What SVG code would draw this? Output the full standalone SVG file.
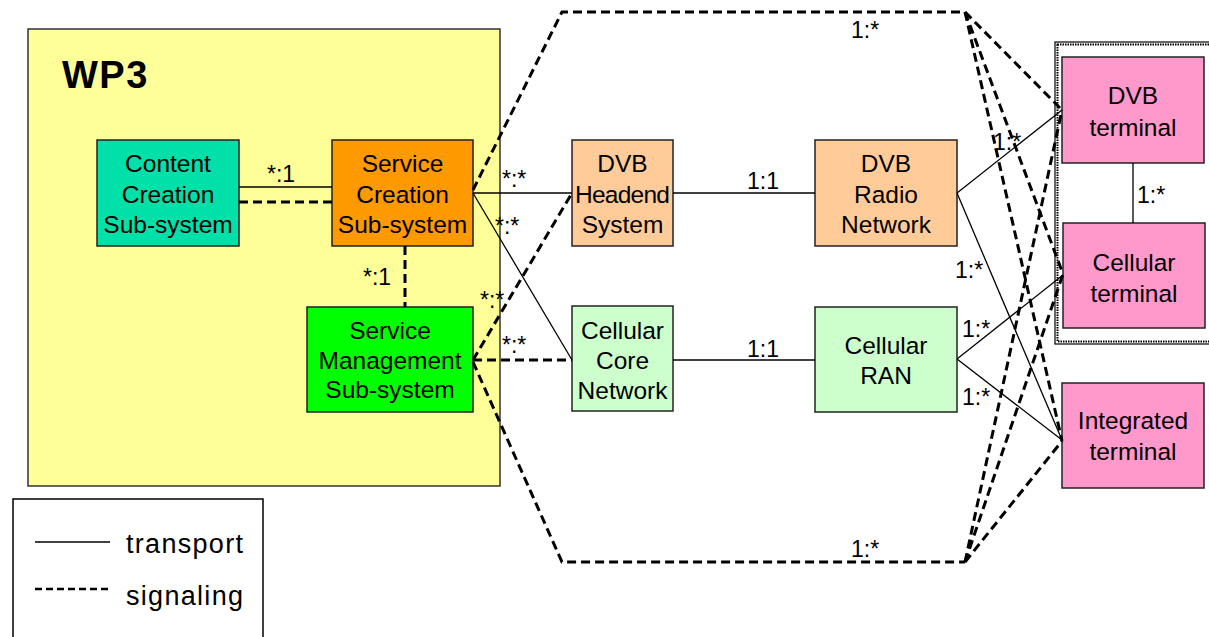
<svg xmlns="http://www.w3.org/2000/svg" width="1209" height="637" viewBox="0 0 1209 637">
<style>
.node rect{stroke:#222;stroke-width:1.5}
.t{font-family:"Liberation Sans",Arial,sans-serif;font-size:24.5px;fill:#000;text-anchor:middle}
.lbl{font-family:"Liberation Sans",Arial,sans-serif;font-size:23px;fill:#000}
.solid{stroke:#000;stroke-width:1.3;fill:none}
.dash{stroke:#000;stroke-width:3;stroke-dasharray:9 5;fill:none}
</style>
<rect width="1209" height="637" fill="#fff"/>
<g id="wp3">
<rect x="28" y="29" width="472" height="457" fill="#FFFF99" stroke="#333" stroke-width="1.5"/>
<text x="62" y="88" font-family="Liberation Sans,Arial,sans-serif" font-size="38" font-weight="bold" letter-spacing="1.5">WP3</text>
</g>
<g id="terminal-group">
<rect x="1055" y="42" width="165" height="302" fill="none" stroke="#000" stroke-width="1.2"/>
<rect x="1057.5" y="44.5" width="165" height="297" fill="none" stroke="#000" stroke-width="2" stroke-dasharray="1.5 1"/>
</g>
<g id="content-creation" class="node">
<rect x="97" y="140" width="142" height="106" fill="#00E0A8"/>
<text class="t" x="168" y="172">Content</text><text class="t" x="168" y="203">Creation</text><text class="t" x="168" y="233">Sub-system</text>
</g>
<g id="service-creation" class="node">
<rect x="332" y="140" width="141" height="106" fill="#FF9900"/>
<text class="t" x="402.5" y="172">Service</text><text class="t" x="402.5" y="203">Creation</text><text class="t" x="402.5" y="233">Sub-system</text>
</g>
<g id="service-management" class="node">
<rect x="307" y="307" width="166" height="105" fill="#00FF00"/>
<text class="t" x="390" y="339">Service</text><text class="t" x="390" y="369">Management</text><text class="t" x="390" y="398">Sub-system</text>
</g>
<g id="dvb-headend" class="node">
<rect x="572" y="140" width="101" height="106" fill="#FFCC99"/>
<text class="t" x="622.5" y="172">DVB</text><text class="t" x="622.5" y="203" textLength="95">Headend</text><text class="t" x="622.5" y="233">System</text>
</g>
<g id="dvb-radio" class="node">
<rect x="815" y="140" width="142" height="106" fill="#FFCC99"/>
<text class="t" x="886" y="172">DVB</text><text class="t" x="886" y="203">Radio</text><text class="t" x="886" y="233">Network</text>
</g>
<g id="cellular-core" class="node">
<rect x="572" y="306" width="101" height="105" fill="#CCFFCC"/>
<text class="t" x="622.5" y="339">Cellular</text><text class="t" x="622.5" y="369">Core</text><text class="t" x="622.5" y="399">Network</text>
</g>
<g id="cellular-ran" class="node">
<rect x="815" y="307" width="142" height="105" fill="#CCFFCC"/>
<text class="t" x="886" y="354">Cellular</text><text class="t" x="886" y="384">RAN</text>
</g>
<g id="dvb-terminal" class="node">
<rect x="1062" y="57" width="142" height="106" fill="#FF99CC"/>
<text class="t" x="1133" y="104">DVB</text><text class="t" x="1133" y="136">terminal</text>
</g>
<g id="cellular-terminal" class="node">
<rect x="1063" y="223" width="142" height="105" fill="#FF99CC"/>
<text class="t" x="1134" y="271">Cellular</text><text class="t" x="1134" y="302">terminal</text>
</g>
<g id="integrated-terminal" class="node">
<rect x="1062" y="383" width="142" height="105" fill="#FF99CC"/>
<text class="t" x="1133" y="429">Integrated</text><text class="t" x="1133" y="460">terminal</text>
</g>
<g id="connectors">
<line class="solid" x1="239" y1="187" x2="332" y2="187"/>
<line class="dash" x1="239" y1="202" x2="332" y2="202"/>
<line class="dash" x1="405" y1="246" x2="405" y2="307"/>
<line class="solid" x1="473" y1="193" x2="572" y2="193"/>
<line class="solid" x1="473" y1="193" x2="572" y2="360"/>
<line class="dash" x1="473" y1="360" x2="572" y2="360"/>
<line class="dash" x1="473" y1="360" x2="572" y2="193"/>
<line class="solid" x1="673" y1="193" x2="815" y2="193"/>
<line class="solid" x1="673" y1="360" x2="815" y2="360"/>
<line class="solid" x1="957" y1="193" x2="1062" y2="110"/>
<line class="solid" x1="957" y1="193" x2="1062" y2="440"/>
<line class="solid" x1="957" y1="359" x2="1063" y2="275"/>
<line class="solid" x1="957" y1="359" x2="1062" y2="440"/>
<line class="solid" x1="1133" y1="163" x2="1133" y2="223"/>
<polyline class="dash" points="473,190 562,12 965,12"/>
<line class="dash" x1="965" y1="12" x2="1062" y2="110"/>
<line class="dash" x1="965" y1="12" x2="1063" y2="274"/>
<line class="dash" x1="965" y1="12" x2="1062" y2="441"/>
<polyline class="dash" points="473,362 562,562 965,562"/>
<line class="dash" x1="965" y1="562" x2="1062" y2="441"/>
<line class="dash" x1="965" y1="562" x2="1063" y2="274"/>
<line class="dash" x1="965" y1="562" x2="1062" y2="110"/>
</g>
<g id="labels">
<text class="lbl" x="267" y="182">*:1</text>
<text class="lbl" x="363" y="285">*:1</text>
<text class="lbl" x="502" y="187">*:*</text>
<text class="lbl" x="495" y="234">*:*</text>
<text class="lbl" x="480" y="308">*:*</text>
<text class="lbl" x="502" y="353">*:*</text>
<text class="lbl" x="747" y="189">1:1</text>
<text class="lbl" x="747" y="357">1:1</text>
<text class="lbl" x="851" y="38">1:*</text>
<text class="lbl" x="851" y="557">1:*</text>
<text class="lbl" x="993" y="150">1:*</text>
<text class="lbl" x="955" y="278">1:*</text>
<text class="lbl" x="962" y="337">1:*</text>
<text class="lbl" x="962" y="405">1:*</text>
<text class="lbl" x="1137" y="203">1:*</text>
</g>
<g id="legend">
<rect x="13" y="499" width="250" height="150" fill="none" stroke="#000" stroke-width="1.5"/>
<line x1="35" y1="542" x2="110" y2="542" stroke="#000" stroke-width="1.3"/>
<line x1="35" y1="589" x2="110" y2="589" stroke="#000" stroke-width="2.5" stroke-dasharray="7 4"/>
<text x="126" y="553" font-family="Liberation Sans,Arial,sans-serif" font-size="27" textLength="117">transport</text>
<text x="126" y="605" font-family="Liberation Sans,Arial,sans-serif" font-size="27" textLength="117">signaling</text>
</g>
</svg>
